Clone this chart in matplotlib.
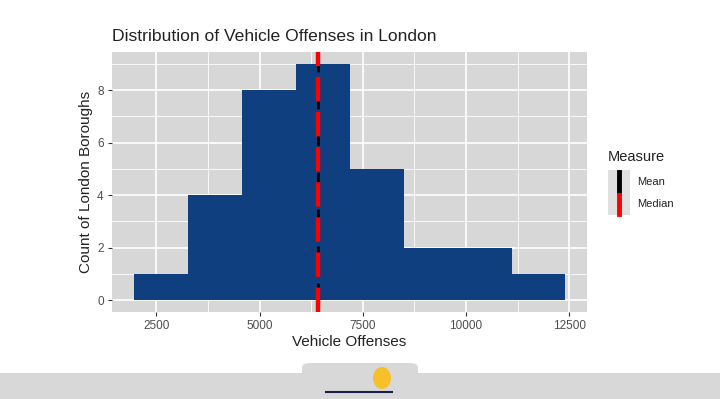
import numpy as np
import matplotlib.pyplot as plt
from matplotlib.patches import FancyBboxPatch, Rectangle, Ellipse
from matplotlib.lines import Line2D

plt.rcParams["font.family"] = ["Liberation Sans", "DejaVu Sans"]

# histogram bins
bin_edges = [1950, 3260, 4570, 5880, 7190, 8500, 9805, 11110, 12410]
counts = [1, 4, 8, 9, 5, 2, 2, 1]
mean_val = 6420
median_val = 6410

x_ticks = [2500, 5000, 7500, 10000, 12500]
y_ticks = [0, 2, 4, 6, 8]

panel_bg = "#D7D7D7"
bar_col = "#0F3F7F"

fig = plt.figure(figsize=(7.2, 3.99), dpi=100)
ax = fig.add_axes([112 / 720, 1 - 312 / 399, 475 / 720, 260 / 399])
ax.set_facecolor(panel_bg)

lefts = np.array(bin_edges[:-1])
widths = np.diff(bin_edges)
ax.bar(lefts, counts, width=widths, align="edge", color=bar_col, linewidth=0, zorder=3)

ax.axvline(mean_val, color="black", lw=1.9, dashes=(4, 3), zorder=4)
ax.axvline(median_val, color="#FF0000", lw=3.2, dashes=(5.5, 2.4), zorder=5)

ax.set_xlim(1427, 12933)
ax.set_ylim(-0.45, 9.45)
ax.set_xticks(x_ticks)
ax.set_xticklabels([str(v) for v in x_ticks])
ax.set_yticks(y_ticks)
ax.set_xticks([3750, 6250, 8750, 11250], minor=True)
ax.set_yticks([1, 3, 5, 7, 9], minor=True)

ax.grid(which="major", color="white", lw=1.2, zorder=0)
ax.grid(which="minor", color="white", lw=0.6, zorder=0)
ax.set_axisbelow(True)
for s in ax.spines.values():
    s.set_visible(False)
ax.tick_params(which="major", length=3, width=0.8, color="#333333",
               labelsize=8.5, labelcolor="#4D4D4D", pad=3)
ax.tick_params(which="minor", length=0)

ax.set_xlabel("Vehicle Offenses", fontsize=11, color="#222222", labelpad=2)
ax.set_ylabel("Count of London Boroughs", fontsize=11, color="#222222", labelpad=3)
ax.set_title("Distribution of Vehicle Offenses in London", fontsize=12.6,
             color="#222222", loc="left", pad=8)

# legend drawn by hand in figure coords, ggplot style
fig.text(608 / 720, 1 - 157 / 399, "Measure", fontsize=10.5, color="#222222", va="center")
fig.patches.append(Rectangle((608 / 720, 1 - 215 / 399), 22 / 720, 45 / 399,
                             transform=fig.transFigure, color="#E0E0E0", lw=0))
fig.lines.append(Line2D([619 / 720, 619 / 720], [1 - 172 / 399, 1 - 192 / 399],
                        transform=fig.transFigure, color="black", lw=3.5))
fig.lines.append(Line2D([619 / 720, 619 / 720], [1 - 195 / 399, 1 - 214 / 399],
                        transform=fig.transFigure, color="#FF0000", lw=3.5))
fig.text(637 / 720, 1 - 182 / 399, "Mean", fontsize=8, color="#222222", va="center")
fig.text(637 / 720, 1 - 204 / 399, "Median", fontsize=8, color="#222222", va="center")

# bottom band with tab
fig.patches.append(Rectangle((0, 0), 1, 26 / 399, transform=fig.transFigure,
                             color="#D8D8D8", lw=0))
fig.patches.append(FancyBboxPatch((302 / 720, 0), 116 / 720, 36 / 399,
                                  boxstyle="round,pad=0,rounding_size=0.012",
                                  transform=fig.transFigure, color="#D8D8D8", lw=0))
fig.patches.append(Ellipse((382 / 720, 1 - 378 / 399), 18 / 720, 22 / 399,
                           transform=fig.transFigure, color="#F5C02A", lw=0))
fig.lines.append(Line2D([326 / 720, 392 / 720], [1 - 392 / 399, 1 - 392 / 399],
                        transform=fig.transFigure, color="#1E1E4A", lw=1.5))

fig.savefig("out.png", dpi=100, facecolor="white")
